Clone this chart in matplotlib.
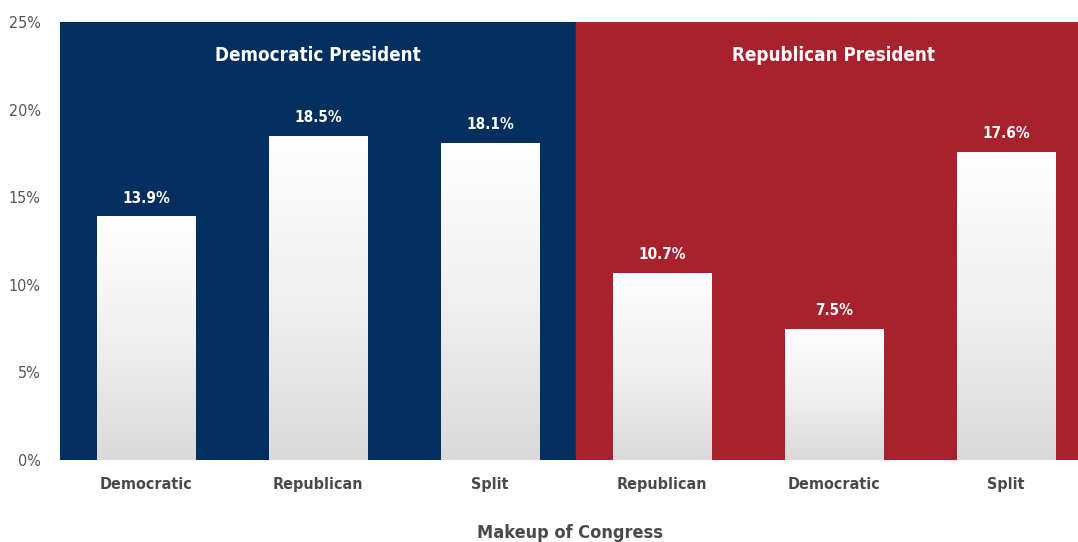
import numpy as np
import matplotlib.pyplot as plt
from matplotlib.patches import Rectangle
from matplotlib.colors import LinearSegmentedColormap

plt.rcParams.update({'font.family': ['DejaVu Sans'],
                     'font.stretch': 'condensed',
                     'font.weight': 'bold'})

#%% data
categories = ['Democratic', 'Republican', 'Split', 'Republican', 'Democratic', 'Split']
values = [13.9, 18.5, 18.1, 10.7, 7.5, 17.6]
value_labels = ['13.9%', '18.5%', '18.1%', '10.7%', '7.5%', '17.6%']
groups = ['Democratic President', 'Republican President']
yticks = [0, 5, 10, 15, 20, 25]
ytick_labels = ['0%', '5%', '10%', '15%', '20%', '25%']

blue = '#032f5e'
red = '#a8222e'

#%% plot
fig = plt.figure(figsize=(10.78, 5.42), dpi=100)
ax = fig.add_axes([60/1078, 82/542, 1018/1078, 438/542])
x = np.arange(len(values))

# background panels
ax.add_patch(Rectangle((-0.5, 0), 3, 25, color=blue, zorder=0))
ax.add_patch(Rectangle((2.5, 0), 4, 25, color=red, zorder=0))

# bars with white -> light gray gradient
grad = np.linspace(0, 1, 256).reshape(-1, 1)
cmap = LinearSegmentedColormap.from_list('bar', ['#dadada', '#f0f0f0', '#ffffff'])
bars = ax.bar(x, values, width=0.57, color='none', edgecolor='none', zorder=2)
for b in bars:
    x0, w, h = b.get_x(), b.get_width(), b.get_height()
    im = ax.imshow(grad, extent=(x0, x0 + w, 0, h), origin='lower', aspect='auto',
                   cmap=cmap, zorder=2)
    im.set_clip_path(b)
ax.set_xlim(-0.5, -0.5 + 1018/172)
ax.set_ylim(0, 25)

for xi, v, lab in zip(x, values, value_labels):
    ax.annotate(lab, (xi, v), xytext=(0, 13), textcoords='offset points',
                ha='center', va='center', color='white', fontsize=11, fontweight='bold')

ax.text(1, 23.1, groups[0], ha='center', va='center', color='white', fontsize=13.5, fontweight='bold')
ax.text(4, 23.1, groups[1], ha='center', va='center', color='white', fontsize=13.5, fontweight='bold')

ax.set_xticks(x)
ax.set_xticklabels(categories, fontsize=11.5, color='#4a4a4a', fontweight='bold')
ax.set_yticks(yticks)
ax.set_yticklabels(ytick_labels, fontsize=11.5, color='#555555', fontweight='normal')
ax.tick_params(axis='both', length=0)
ax.tick_params(axis='x', pad=12)
ax.tick_params(axis='y', pad=14)
for s in ax.spines.values():
    s.set_visible(False)

fig.text(570/1078, 9/542, 'Makeup of Congress', ha='center', va='center',
         fontsize=13, color='#4a4a4a', fontweight='bold')

fig.savefig('out.png', dpi=100)
